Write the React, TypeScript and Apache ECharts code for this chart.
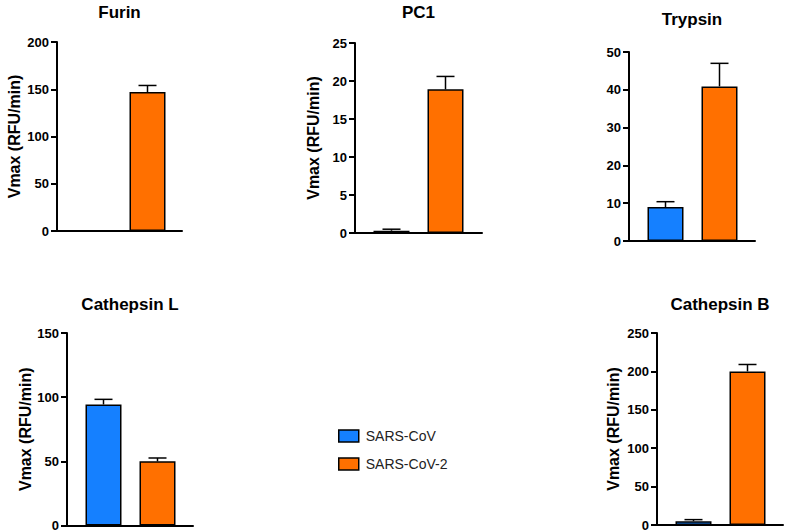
import React, { useEffect, useRef } from 'react';
import * as echarts from 'echarts';

const enzymes = ['Furin', 'PC1', 'Trypsin', 'Cathepsin L', 'Cathepsin B'];
const seriesNames = ['SARS-CoV', 'SARS-CoV-2'];
const sarsCov = [0, 0.3, 9.0, 94.3, 5];
const sarsCovErr = [0, 0.2, 1.4, 4, 2];
const sarsCov2 = [147, 18.9, 40.9, 50, 200];
const sarsCov2Err = [7, 1.7, 6.1, 2.6, 9];
const yMax = [200, 25, 50, 150, 250];
const yInterval = [50, 5, 10, 50, 50];
const yAxisTitle = 'Vmax (RFU/min)';
const showYTitle = [true, true, false, true, true];

const colors = ['#1580FF', '#FF7000'];
const FONT = "Arial, 'Liberation Sans', Helvetica, sans-serif";

// pixel layout of each panel
const layout = [
  { left: 57, top: 42, width: 125, height: 189, nameGap: 35, titleY: 12 },
  { left: 355, top: 43, width: 127, height: 190, nameGap: 34, titleY: 12 },
  { left: 629, top: 52, width: 126, height: 189, nameGap: 34, titleY: 19 },
  { left: 67, top: 333, width: 126, height: 193, nameGap: 32, titleY: 304 },
  { left: 657, top: 333, width: 126, height: 192, nameGap: 36, titleY: 304 },
];
const firstBarOffset = 36.5; // px from y-axis to first bar centre
const barSpacing = 54; // px between bar centres

export default function App() {
  const ref = useRef<HTMLDivElement>(null);
  useEffect(() => {
    if (!ref.current) return;
    const chart = echarts.init(ref.current, undefined, { renderer: 'svg' });

    const grids: any[] = [];
    const xAxes: any[] = [];
    const yAxes: any[] = [];
    const series: any[] = [];
    const graphics: any[] = [];

    const errorRender = (params: any, api: any) => {
      const x = api.value(0);
      const v = api.value(1);
      const e = api.value(2);
      if (!e) return null;
      const p0 = api.coord([x, v]);
      const p1 = api.coord([x, v + e]);
      const cap = 9;
      const st = { stroke: '#000', lineWidth: 1.5 };
      return {
        type: 'group',
        children: [
          { type: 'line', shape: { x1: p0[0], y1: p0[1], x2: p1[0], y2: p1[1] }, style: st },
          { type: 'line', shape: { x1: p1[0] - cap, y1: p1[1], x2: p1[0] + cap, y2: p1[1] }, style: st },
        ],
      };
    };

    enzymes.forEach((name, i) => {
      const L = layout[i];
      grids.push({ left: L.left, top: L.top, width: L.width, height: L.height });
      const xMin = -firstBarOffset / barSpacing;
      xAxes.push({
        type: 'value',
        gridIndex: i,
        min: xMin,
        max: xMin + L.width / barSpacing,
        axisLine: { show: true, onZero: false, lineStyle: { color: '#000', width: 2 } },
        axisTick: { show: false },
        axisLabel: { show: false },
        splitLine: { show: false },
      });
      yAxes.push({
        type: 'value',
        gridIndex: i,
        min: 0,
        max: yMax[i],
        interval: yInterval[i],
        name: showYTitle[i] ? yAxisTitle : '',
        nameLocation: 'middle',
        nameGap: L.nameGap,
        nameTextStyle: { fontFamily: FONT, fontSize: 16, fontWeight: 'bold', color: '#000' },
        axisLine: { show: true, onZero: false, lineStyle: { color: '#000', width: 2 } },
        axisTick: { show: true, length: 6, lineStyle: { color: '#000', width: 2 } },
        axisLabel: { margin: 8, fontFamily: FONT, fontSize: 13, fontWeight: 'bold', color: '#000' },
        splitLine: { show: false },
      });
      [sarsCov, sarsCov2].forEach((vals, s) => {
        series.push({
          name: seriesNames[s],
          type: 'bar',
          xAxisIndex: i,
          yAxisIndex: i,
          barWidth: 36,
          barGap: '-100%',
          data: [[s, vals[i]]],
          itemStyle: { color: colors[s], borderColor: '#000', borderWidth: 1.5 },
          z: 2,
        });
      });
      series.push({
        type: 'custom',
        xAxisIndex: i,
        yAxisIndex: i,
        renderItem: errorRender,
        data: [
          [0, sarsCov[i], sarsCovErr[i]],
          [1, sarsCov2[i], sarsCov2Err[i]],
        ],
        z: 1,
      });
      graphics.push({
        type: 'text',
        x: L.left + L.width / 2,
        y: L.titleY,
        style: {
          text: name,
          align: 'center',
          verticalAlign: 'middle',
          font: `bold 17px ${FONT}`,
          fill: '#000',
        },
      });
    });

    chart.setOption({
      animation: false,
      backgroundColor: '#fff',
      grid: grids,
      xAxis: xAxes,
      yAxis: yAxes,
      series,
      graphic: graphics,
      legend: {
        data: seriesNames,
        orient: 'vertical',
        left: 333,
        top: 423,
        icon: 'rect',
        itemWidth: 20,
        itemHeight: 12,
        itemGap: 12,
        itemStyle: { borderColor: '#000', borderWidth: 1.5 },
        textStyle: { fontFamily: FONT, fontSize: 14, color: '#222', lineHeight: 16, padding: [0, 0, 0, 2] },
      },
    });
    return () => chart.dispose();
  }, []);
  return (
    <div
      ref={ref}
      style={{ position: 'fixed', left: 0, top: 0, width: 789, height: 532 }}
    />
  );
}
